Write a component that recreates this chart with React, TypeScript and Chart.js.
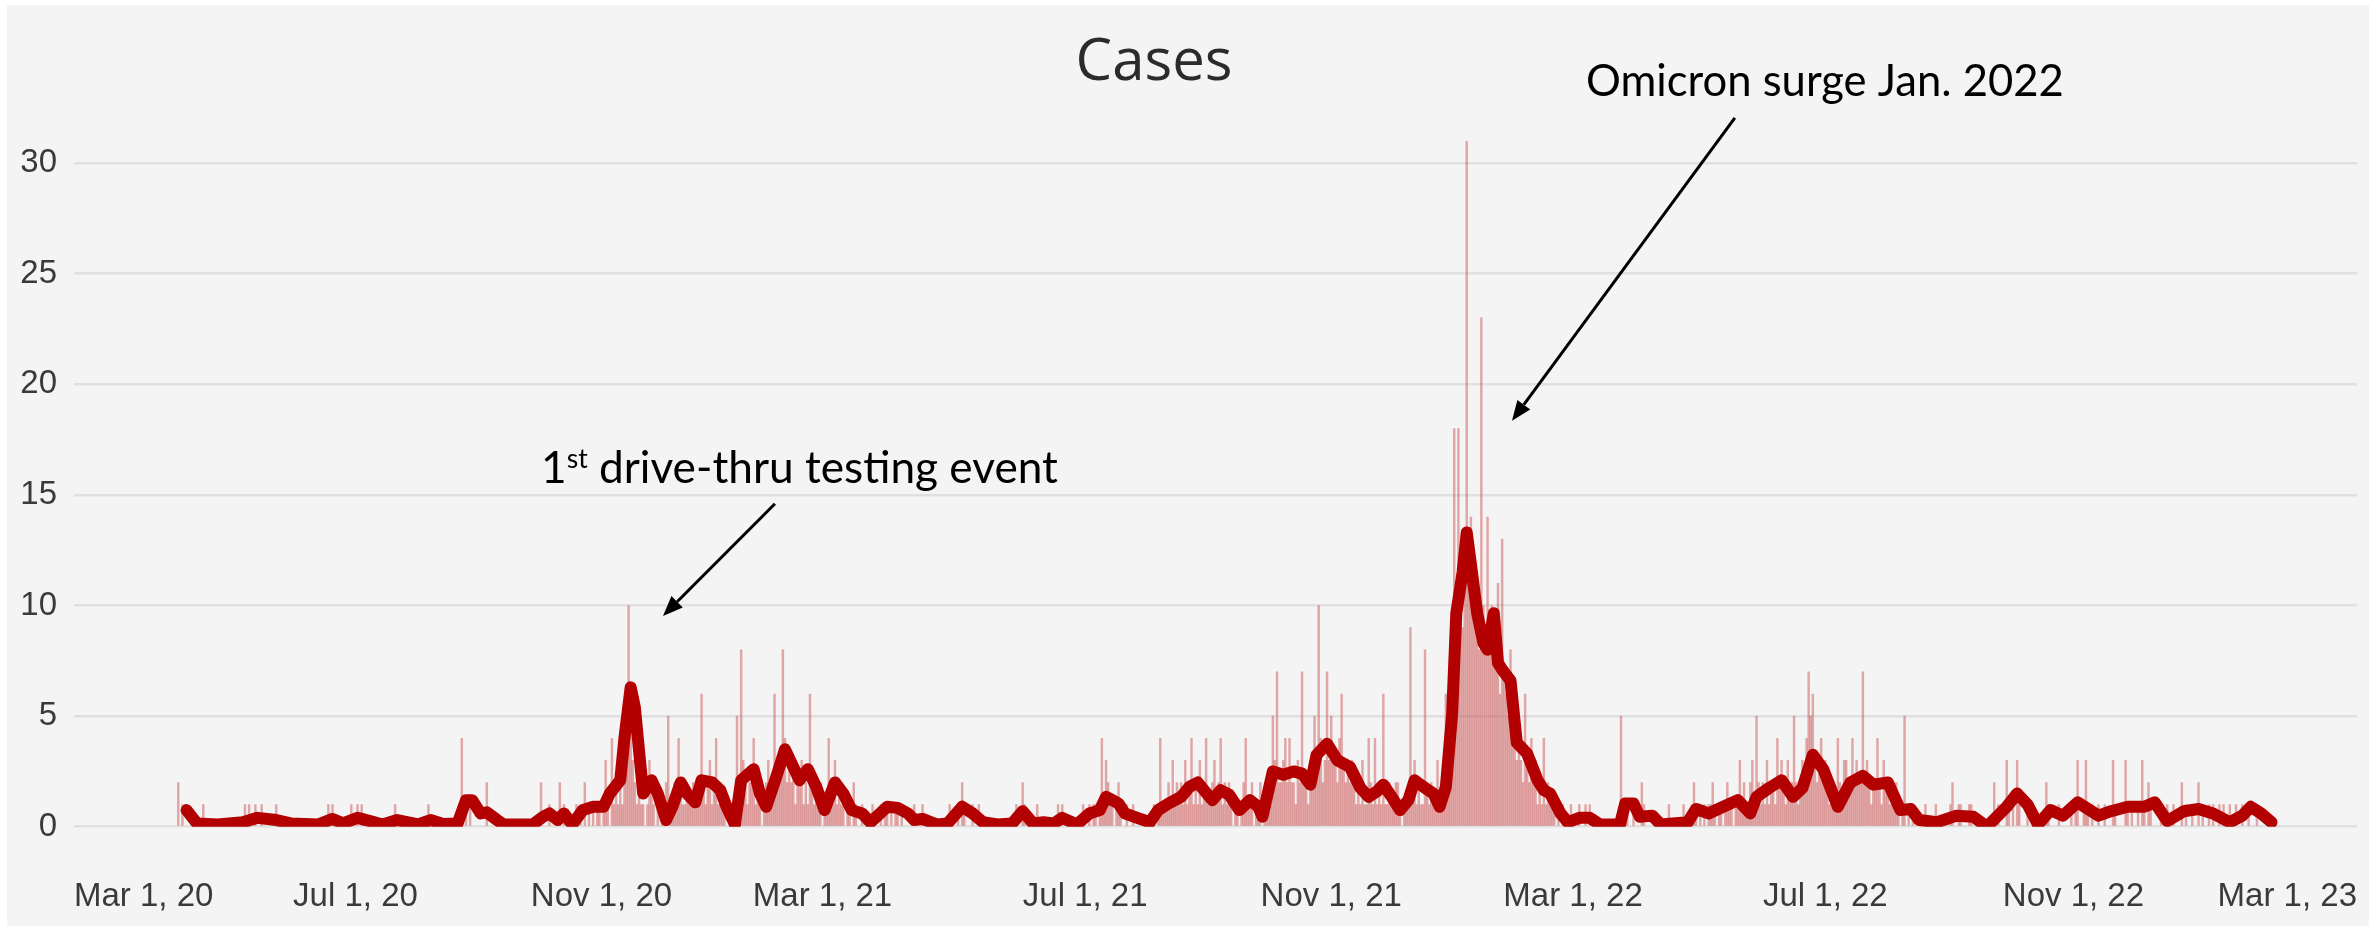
import React, { useEffect, useRef } from "react";
import { Chart, registerables } from "chart.js";

Chart.register(...registerables);

// ---------- axis labels (x positions are day slots along the axis) ----------
const tickDays = [0, 135, 253, 359, 485, 603, 719, 840, 959, 1095];
const tickLabels = [
  "Mar 1, 20", "Jul 1, 20", "Nov 1, 20", "Mar 1, 21", "Jul 1, 21",
  "Nov 1, 21", "Mar 1, 22", "Jul 1, 22", "Nov 1, 22", "Mar 1, 23",
];
const yTickValues = [0, 5, 10, 15, 20, 25, 30];

// ---------- daily cases (bars), one value per day slot ----------
const dailyStart2020 = 40; // days 40-359
const dailyCases2020 = [
  0,0,0,0,0,0,0,0,0,0,
  2,0,1,0,0,0,0,0,0,0,
  0,0,1,0,0,0,0,0,0,0,
  0,0,0,0,0,0,0,0,0,0,
  0,0,1,0,1,0,0,1,0,0,
  1,0,0,0,0,0,0,1,0,0,
  0,0,0,0,0,0,0,0,0,0,
  0,0,0,0,0,0,0,0,0,0,
  0,0,1,0,1,0,0,0,0,0,
  0,0,0,1,0,0,1,0,1,0,
  0,0,0,0,0,0,0,0,0,0,
  0,0,0,0,1,0,0,0,0,0,
  0,0,0,0,0,0,0,0,0,0,
  1,0,0,0,0,0,0,0,0,0,
  0,0,0,0,0,0,4,0,1,0,
  1,0,0,0,0,0,0,0,2,0,
  0,0,0,0,0,0,0,0,0,0,
  0,0,0,0,0,0,0,0,0,0,
  0,0,0,0,2,0,0,0,1,0,
  0,0,0,2,0,1,0,0,0,0,
  0,1,0,1,0,2,0,1,0,1,
  0,1,1,0,1,3,1,0,4,1,
  2,1,3,1,2,4,10,6,3,2,
  1,2,1,1,0,1,3,2,1,0,
  1,0,1,1,2,5,1,1,2,1,
  4,2,1,1,2,1,1,2,1,2,
  1,6,2,1,2,3,1,2,4,1,
  2,1,1,0,0,0,1,0,5,2,
  8,3,2,1,2,2,4,1,2,1,
  0,1,2,3,1,2,6,3,2,3,
  8,4,2,3,2,3,1,2,2,3,
  1,2,1,6,2,1,2,1,2,0,
];
const dailyStart2021 = 360; // days 360-719
const dailyCases2021 = [
  1,1,4,1,1,3,1,2,1,1,
  0,1,1,0,2,1,0,0,1,0,
  0,0,0,1,0,0,0,1,0,1,
  1,0,1,0,1,1,0,1,0,0,
  0,0,0,1,0,0,0,1,0,0,
  0,0,0,0,0,0,0,0,0,0,
  1,0,0,0,1,0,2,1,0,0,
  0,1,0,0,1,0,0,0,0,0,
  0,0,0,0,0,0,0,0,0,0,
  0,0,1,0,0,2,1,0,0,0,
  0,0,1,0,0,0,0,0,0,0,
  0,0,1,0,1,0,0,0,0,0,
  0,0,0,0,1,0,0,1,0,1,
  1,0,1,4,1,3,2,1,1,0,
  1,2,1,0,0,1,0,0,1,0,
  0,0,0,0,0,0,0,0,1,0,
  1,4,1,1,1,2,1,3,1,2,
  1,2,1,3,1,2,4,1,2,1,
  3,1,2,4,1,1,2,3,1,2,
  4,1,2,1,2,1,0,1,1,0,
  1,2,4,1,1,2,0,1,1,2,
  0,1,1,2,1,5,3,7,2,2,
  3,4,2,4,2,2,1,3,2,7,
  2,2,1,3,2,5,3,10,4,2,
  3,7,3,5,3,3,2,4,6,3,
  2,3,2,3,2,1,2,1,3,1,
  1,4,2,1,4,1,2,1,6,1,
  1,2,1,1,2,2,1,0,1,1,
  1,9,2,3,1,2,1,1,8,2,
  1,2,1,1,3,1,2,1,6,2,
  3,8,18,10,18,12,9,11,31,12,
  14,10,12,9,8,23,10,8,14,9,
  10,8,9,11,6,13,7,6,5,8,
  4,5,3,4,3,2,6,3,2,4,
  2,3,1,2,1,4,1,2,1,1,
  1,0,1,0,1,0,0,0,1,0,
];
const dailyStart2022 = 720; // days 720-1049
const dailyCases2022 = [
  0,0,1,0,0,1,0,1,0,0,
  0,0,0,0,0,0,0,0,0,0,
  0,0,5,1,1,1,0,0,1,0,
  0,0,2,1,0,0,0,0,0,0,
  0,0,0,0,0,1,0,0,0,0,
  0,0,1,0,0,0,1,2,1,0,
  1,0,1,0,1,1,2,1,0,1,
  1,0,1,2,1,1,0,1,1,3,
  1,2,1,1,2,3,1,5,2,1,
  2,1,3,1,2,2,1,4,2,3,
  2,1,3,2,2,5,2,1,2,3,
  2,4,7,5,6,3,2,3,4,2,
  3,2,1,1,2,1,4,2,1,3,
  3,2,2,4,2,3,2,2,7,2,
  3,2,1,2,2,4,2,1,3,2,
  2,1,2,1,2,1,0,1,5,0,
  1,0,1,0,0,0,0,0,1,0,
  0,0,0,1,0,0,0,0,0,0,
  1,2,0,0,1,1,0,0,0,1,
  1,0,0,0,0,0,0,0,0,0,
  0,2,0,1,0,0,0,3,1,0,
  1,0,3,1,0,0,0,1,0,0,
  0,0,0,0,0,0,2,1,0,0,
  0,0,1,0,0,0,0,0,1,0,
  1,3,0,0,1,3,1,0,1,0,
  0,1,0,0,1,0,0,0,3,1,
  0,0,0,0,3,1,0,1,0,0,
  1,0,3,1,0,2,1,0,0,0,
  0,1,0,0,1,0,0,1,0,0,
  0,2,0,1,0,0,1,0,0,2,
  0,1,0,0,1,0,1,0,0,1,
  0,1,0,0,1,0,0,1,0,0,
  1,0,0,1,0,0,0,1,0,0,
];

// ---------- 7-day average line ----------
const avgDays = [
  54,59,69,81,88,97,104,117,124,129,136,142,148,155,165,171,177,184,188,191,
  195,198,203,206,220,225,228,232,235,239,244,249,254,257,262,264,267,269,273,277,
  280,284,287,291,294,298,301,306,310,313,317,320,326,329,332,337,341,345,348,352,
  356,360,365,369,373,378,382,390,395,400,403,407,414,419,426,431,436,443,450,455,
  460,465,470,474,481,487,492,495,498,501,504,510,516,520,525,531,535,539,542,546,
  550,554,559,564,568,570,575,580,585,589,593,596,601,606,612,617,621,625,628,632,
  636,640,643,648,652,655,658,661,663,666,668,670.5,673,676,678,681,683,685,689,692,
  697,702,705,708,713,716.5,722,727,732,741.5,744,748,751,757,761,774,778,784,791,798,
  804,807,813,819,824.5,829,834,839,846,852,858,863,870,876,881,885,893.5,903,911,917.5,
  927,932,937,942,948,954,961,971,977,985,993,998,1004,1012,1019,1026,1034,1040,1044,1049,
  1054,
];
const avgValues = [
  0.75,0.15,0.1,0.2,0.4,0.3,0.15,0.1,0.35,0.15,0.4,0.25,0.1,0.3,0.1,0.3,0.12,0.15,1.2,1.2,
  0.6,0.65,0.3,0.1,0.1,0.45,0.6,0.3,0.6,0.1,0.75,0.9,0.9,1.5,2.1,4,6.3,5.4,1.5,2.1,
  1.5,0.3,0.9,2.0,1.5,1.1,2.1,2.0,1.65,0.9,0.1,2.1,2.6,1.5,0.9,2.3,3.5,2.7,2.1,2.6,
  1.8,0.75,2.0,1.5,0.75,0.6,0.2,0.9,0.85,0.6,0.3,0.35,0.1,0.15,0.9,0.6,0.2,0.1,0.15,0.7,
  0.15,0.2,0.15,0.4,0.1,0.6,0.75,1.35,1.2,1.05,0.6,0.4,0.2,0.75,1.05,1.35,1.8,2.0,1.65,1.2,
  1.65,1.45,0.75,1.2,0.9,0.45,2.5,2.35,2.5,2.4,1.9,3.25,3.75,3.0,2.7,1.75,1.35,1.6,1.9,1.35,
  0.75,1.2,2.1,1.75,1.5,0.9,1.8,5.1,9.65,11.5,13.3,11.5,9.65,8.3,8.0,9.65,7.4,7.1,6.6,3.8,
  3.3,2.1,1.65,1.5,0.6,0.2,0.4,0.4,0.1,0.1,1.05,1.05,0.45,0.5,0.1,0.2,0.8,0.6,0.9,1.2,
  0.6,1.35,1.75,2.1,1.35,1.75,3.25,2.6,0.9,2.0,2.3,1.9,2.0,0.75,0.8,0.3,0.2,0.5,0.45,0,
  0.9,1.5,1.0,0.1,0.75,0.5,1.1,0.5,0.7,0.9,0.9,1.1,0.25,0.7,0.8,0.6,0.2,0.5,0.9,0.6,
  0.2,
];

// ---------- texts ----------
const titleText = "Cases";
const omicronText = "Omicron surge Jan. 2022";
const driveText = { num: "1", sup: "st", rest: " drive-thru testing event" };

function buildBars() {
  const pts: { x: number; y: number }[] = [];
  const add = (start: number, arr: number[]) => {
    arr.forEach((v, i) => {
      if (v > 0) pts.push({ x: start + i, y: v });
    });
  };
  add(dailyStart2020, dailyCases2020);
  add(dailyStart2021, dailyCases2021);
  add(dailyStart2022, dailyCases2022);
  return pts;
}

function drawArrow(ctx: CanvasRenderingContext2D, x1: number, y1: number, x2: number, y2: number) {
  const head = 20;
  const half = 8;
  const ang = Math.atan2(y2 - y1, x2 - x1);
  const bx = x2 - head * Math.cos(ang);
  const by = y2 - head * Math.sin(ang);
  ctx.beginPath();
  ctx.moveTo(x1, y1);
  ctx.lineTo(bx, by);
  ctx.stroke();
  ctx.beginPath();
  ctx.moveTo(x2, y2);
  ctx.lineTo(bx + half * Math.sin(ang), by - half * Math.cos(ang));
  ctx.lineTo(bx - half * Math.sin(ang), by + half * Math.cos(ang));
  ctx.closePath();
  ctx.fill();
}

function fitSize(ctx: CanvasRenderingContext2D, text: string, family: string, target: number) {
  ctx.font = `100px ${family}`;
  const w = ctx.measureText(text).width;
  return (100 * target) / w;
}

const notesPlugin = {
  id: "notes",
  afterDraw(chart: any) {
    const ctx: CanvasRenderingContext2D = chart.ctx;
    const xs = chart.scales.x;
    const ys = chart.scales.y;
    ctx.save();
    // title
    const tFam = '"Open Sans", "Noto Sans", sans-serif';
    const tSize = fitSize(ctx, titleText, tFam, 157);
    ctx.font = `${tSize}px ${tFam}`;
    ctx.fillStyle = "#2b2b2b";
    ctx.textAlign = "center";
    ctx.textBaseline = "alphabetic";
    ctx.fillText(titleText, 1147, 75);

    // annotation texts
    const aFam = 'Lato, "Open Sans", sans-serif';
    ctx.fillStyle = "#000";
    const oSize = fitSize(ctx, omicronText, aFam, 478);
    ctx.font = `${oSize}px ${aFam}`;
    ctx.textAlign = "center";
    ctx.fillText(omicronText, xs.getPixelForValue(839.8), ys.getPixelForValue(33.05));

    // drive-thru text with superscript
    ctx.font = `100px ${aFam}`;
    const w1 = ctx.measureText(driveText.num).width;
    const wr = ctx.measureText(driveText.rest).width;
    ctx.font = `60px ${aFam}`;
    const ws = ctx.measureText(driveText.sup).width;
    const dSize = (100 * 517) / (w1 + ws + wr);
    const k = dSize / 100;
    let tx = xs.getPixelForValue(224);
    const ty = ys.getPixelForValue(15.55);
    ctx.textAlign = "left";
    ctx.font = `${dSize}px ${aFam}`;
    ctx.fillText(driveText.num, tx, ty);
    tx += w1 * k;
    ctx.font = `${dSize * 0.6}px ${aFam}`;
    ctx.fillText(driveText.sup, tx, ty - dSize * 0.33);
    tx += ws * k;
    ctx.font = `${dSize}px ${aFam}`;
    ctx.fillText(driveText.rest, tx, ty);

    // arrows
    ctx.strokeStyle = "#000";
    ctx.lineWidth = 3;
    drawArrow(ctx, xs.getPixelForValue(336.2), ys.getPixelForValue(14.6), xs.getPixelForValue(282.5), ys.getPixelForValue(9.53));
    drawArrow(ctx, xs.getPixelForValue(796.6), ys.getPixelForValue(32.05), xs.getPixelForValue(689.7), ys.getPixelForValue(18.35));
    ctx.restore();
  },
};

export default function App() {
  const ref = useRef<HTMLCanvasElement | null>(null);
  useEffect(() => {
    if (!ref.current) return;
    const tickFont = { family: '"Liberation Sans", Arial, sans-serif', size: 33 };
    const chart = new Chart(ref.current, {
      type: "bar",
      data: {
        datasets: [
          {
            type: "line",
            data: avgDays.map((d, i) => ({ x: d, y: avgValues[i] })),
            borderColor: "#b30000",
            borderWidth: 12,
            pointRadius: 0,
            tension: 0,
            borderJoinStyle: "round",
            borderCapStyle: "round",
            fill: false,
          } as any,
          {
            type: "bar",
            data: buildBars(),
            backgroundColor: "rgba(200,70,70,0.45)",
            barThickness: 1.8,
            grouped: false,
          } as any,
        ],
      },
      options: {
        responsive: false,
        animation: false,
        layout: { padding: { top: 136, right: 12, bottom: 0, left: 0 } },
        plugins: {
          legend: { display: false },
          tooltip: { enabled: false },
          title: { display: false },
        },
        scales: {
          x: {
            type: "linear",
            min: 0,
            max: 1095,
            offset: false,
            grid: { display: false, offset: false, drawTicks: true, tickLength: 42 },
            border: { display: false },
            afterBuildTicks: (s: any) => {
              s.ticks = tickDays.map((v) => ({ value: v }));
            },
            afterFit: (s: any) => {
              s.height = 99.3;
            },
            ticks: {
              autoSkip: false,
              maxRotation: 0,
              minRotation: 0,
              align: "inner",
              padding: 8,
              color: "#3a3a3a",
              font: tickFont,
              callback: (_v: any, i: number) => tickLabels[i],
            },
          },
          y: {
            min: 0,
            max: 31,
            afterBuildTicks: (s: any) => {
              s.ticks = yTickValues.map((v) => ({ value: v }));
            },
            afterFit: (s: any) => {
              s.width = 67;
            },
            grid: { color: "#e0e0e0", lineWidth: 2.5, drawTicks: false },
            border: { display: false },
            ticks: {
              padding: 17,
              color: "#3a3a3a",
              font: tickFont,
            },
          },
        },
      } as any,
      plugins: [notesPlugin],
    });
    return () => chart.destroy();
  }, []);

  return (
    <div style={{ position: "fixed", left: 0, top: 0, width: 2369, height: 926, background: "#ffffff" }}>
      <div style={{ position: "absolute", left: 7, top: 5, width: 2362, height: 921, background: "#f4f4f4" }}>
        <canvas ref={ref} width={2362} height={921} style={{ display: "block", width: 2362, height: 921 }} />
      </div>
    </div>
  );
}
